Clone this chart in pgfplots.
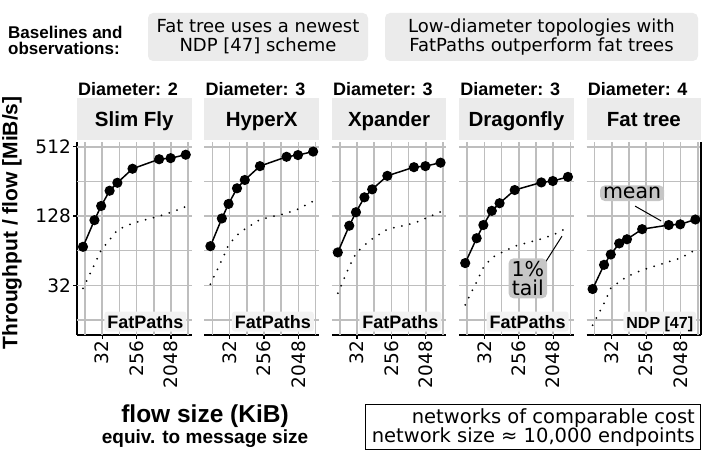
\documentclass[border=0pt]{standalone}
\usepackage{fontspec}
\setmainfont{Liberation Sans}
\newfontfamily\dv{DejaVu Sans}
\usepackage{pgfplots}
\pgfplotsset{compat=1.18}
\definecolor{stripgray}{HTML}{EBEBEB}
\definecolor{gridgray}{HTML}{BEBEBE}
\definecolor{labgray}{HTML}{C6C6C6}
\definecolor{fpgray}{HTML}{F2F2F2}
\newcommand{\fs}[1]{\fontsize{#1}{#1}\selectfont}

\pgfplotsset{
  every axis/.append style={
    scale only axis, width=114.5pt, height=193pt,
    anchor=south west, clip=false,
    xmode=log, ymode=log, log basis x=2, log basis y=2,
    xmin=6.96, xmax=7080, ymin=11.84, ymax=563,
    xtick={32,256,2048}, xticklabels={32,256,2048},
    ytick={32,128,512}, yticklabels={32,128,512},
    xmajorgrids=true, ymajorgrids=true,
    grid style={draw=gridgray, line width=1.6pt},
    axis x line*=bottom, axis y line*=left,
    axis line style={line width=1.4pt, -},
    tick align=outside,
    major tick length=4pt, minor tick length=0pt,
    tick style={line width=1.2pt, black},
    xticklabel style={rotate=90, anchor=east, font=\dv\fs{18.5}, inner sep=2pt},
    yticklabel style={font=\dv\fs{18.5}, inner sep=2pt},
  },
}
\tikzset{
  meanline/.style={black, line width=1.5pt, mark=*, mark size=4.3pt},
  tailline/.style={black, line width=2pt, line cap=round, dash pattern=on 0pt off 8.2pt},
  fplab/.style={fill=fpgray, rounded corners=3pt, font=\bfseries\fs{18}, inner xsep=3pt, inner ysep=3.5pt, text height=13pt, text depth=0pt},
  gl/.style={draw=gridgray, line width=1.6pt},
}
% grid lines at the major and intermediate positions (log2 steps)
\newcommand{\panelgrid}{%
  \pgfplotsinvokeforeach{11.31,32,90.51,256,724.1,2048,5793}{%
    \draw[gl] (axis cs:##1,11.84) -- (axis cs:##1,563);}%
  \pgfplotsinvokeforeach{16,32,64,128,256,512}{%
    \draw[gl] (axis cs:6.96,##1) -- (axis cs:7080,##1);}%
}

\begin{document}
\begin{tikzpicture}
\path[use as bounding box] (0pt,0pt) rectangle (704pt,454pt);

% ---- top annotations ----
\node[anchor=west, align=left, font=\bfseries\fs{17}, inner sep=0pt] at (8pt,413.5pt)
  {Baselines and\\[-1pt]observations:};
\fill[stripgray, rounded corners=5pt] (148pt,393pt) rectangle (368pt,441pt);
\node[align=center, font=\dv\fs{18}, inner sep=0pt] at (258pt,417pt)
  {Fat tree uses a newest\\[1pt]NDP [47] scheme};
\fill[stripgray, rounded corners=5pt] (385pt,393pt) rectangle (698pt,441pt);
\node[align=center, font=\dv\fs{18}, inner sep=0pt] at (541.5pt,417pt)
  {Low-diameter topologies with\\[1pt]FatPaths outperform fat trees};

% ---- y label ----
\node[rotate=90, font=\bfseries\fs{21}, inner sep=0pt] at (12pt,231pt)
  {Throughput / flow [MiB/s]};

% ---- strips ----
\foreach \xl/\nm/\dm in {77/Slim Fly/2, 204.4/HyperX/3, 331.8/Xpander/3, 459.2/Dragonfly/3, 586.6/Fat tree/4}{
  \fill[stripgray] (\xl pt,314pt) rectangle ++(114.5pt,42pt);
  \node[anchor=base, font=\bfseries\fs{20.5}, inner sep=0pt] at ({\xl pt+57.25pt},327.5pt) {\nm};
  \node[anchor=base west, font=\bfseries\fs{18}, inner sep=0pt] at ({\xl pt+1pt},358pt) {Diameter: \dm};
}

% ---- Slim Fly ----
\begin{axis}[at={(77pt,119pt)}]
\panelgrid
\addplot[tailline] coordinates {(10,30.1) (20,48.5) (30,64.9) (50,79.3) (80,97.0) (200,110.7) (1000,128) (2000,137.2) (5000,154.3)};
\addplot[meanline] coordinates {(10,69.1) (20,117.8) (30,156.5) (50,212.3) (80,249) (200,329.7) (1000,398.9) (2000,407.3) (5000,436.5)};
\node[fplab, anchor=south east] at (rel axis cs:0.958,0.017) {FatPaths};
\end{axis}

% ---- HyperX ----
\begin{axis}[at={(204.4pt,119pt)}, yticklabels={}, ytick style={draw=none}, y axis line style={draw=none}]
\panelgrid
\addplot[tailline] coordinates {(10,32.7) (20,53.1) (30,71.5) (50,87.4) (80,98.4) (200,119.4) (1000,135.3) (2000,147.0) (5000,172)};
\addplot[meanline] coordinates {(10,70.0) (20,121.9) (30,163.1) (50,222.9) (80,263.2) (200,347.3) (1000,418.8) (2000,433.5) (5000,464.6)};
\node[fplab, anchor=south east] at (rel axis cs:0.958,0.017) {FatPaths};
\end{axis}

% ---- Xpander ----
\begin{axis}[at={(331.8pt,119pt)}, yticklabels={}, ytick style={draw=none}, y axis line style={draw=none}]
\panelgrid
\addplot[tailline] coordinates {(10,27.3) (20,46.5) (30,60.5) (50,71.5) (80,81.0) (200,98.4) (1000,110.7) (2000,121.9) (5000,139.1)};
\addplot[meanline] coordinates {(10,61.8) (20,105.4) (30,138.1) (50,186.1) (80,218.3) (200,286.0) (1000,340.1) (2000,347.3) (5000,372.2)};
\node[fplab, anchor=south east] at (rel axis cs:0.958,0.017) {FatPaths};
\end{axis}

% ---- Dragonfly ----
\begin{axis}[at={(459.2pt,119pt)}, yticklabels={}, ytick style={draw=none}, y axis line style={draw=none}]
\panelgrid
\addplot[tailline] coordinates {(10,21.6) (20,34.3) (30,45.6) (50,55.7) (80,60.5) (200,70.0) (1000,81.0) (2000,87.4) (5000,101.8)};
\addplot[meanline] coordinates {(10,49.9) (20,82.1) (30,106.9) (50,142.0) (80,165.4) (200,215.3) (1000,250.7) (2000,257.8) (5000,280.1)};
\draw[line width=1pt] (axis cs:1228,49.7) -- (axis cs:3490,85.6);
\node[fill=labgray, rounded corners=5pt, align=center, font=\dv\fs{20.5}, inner xsep=3pt, inner ysep=3pt] at (axis cs:442,36.8) {1\%\\[-2pt]tail};
\node[fplab, anchor=south east] at (rel axis cs:0.958,0.017) {FatPaths};
\end{axis}

% ---- Fat tree ----
\begin{axis}[at={(586.6pt,119pt)}, yticklabels={}, ytick style={draw=none}, y axis line style={draw=none}]
\panelgrid
\addplot[tailline] coordinates {(10,14.4) (20,22.3) (30,30.1) (50,34.3) (80,38.1) (200,43.4) (1000,51.3) (2000,55.0) (5000,64.9)};
\addplot[meanline] coordinates {(10,29.7) (20,48.2) (30,59.3) (50,74.0) (80,80.4) (200,98.4) (1000,106.9) (2000,108.4) (5000,119.4)};
\draw[line width=1pt] (axis cs:131,156) -- (axis cs:630,116);
\node[fill=labgray, rounded corners=5pt, font=\dv\fs{20.5}, inner xsep=3pt, inner ysep=2pt] at (axis cs:109,202) {mean};
\node[fplab, anchor=south east, font=\bfseries\fs{16}] at (rel axis cs:0.958,0.017) {NDP [47]};
\draw[line width=1.4pt] (rel axis cs:1,0) -- (rel axis cs:1,1);
\end{axis}

% ---- bottom ----
\node[anchor=base, font=\bfseries\fs{24.5}, inner sep=0pt] at (205pt,31pt) {flow size (KiB)};
\node[anchor=base, font=\bfseries\fs{19}, inner sep=0pt] at (205pt,10.5pt) {equiv. to message size};
\draw[line width=1pt, fill=white] (365pt,4pt) rectangle (700pt,49pt);
\node[anchor=east, align=right, font=\dv\fs{19.5}, inner sep=0pt] at (695pt,26.5pt)
  {networks of comparable cost\\[0pt]network size ≈ 10,000 endpoints};
\end{tikzpicture}
\end{document}
